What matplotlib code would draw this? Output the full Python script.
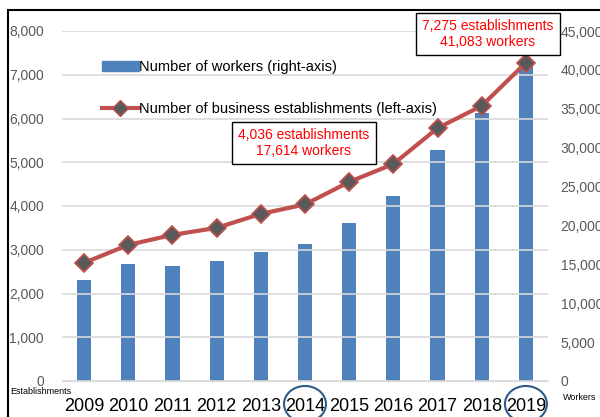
import matplotlib.pyplot as plt
import matplotlib.transforms as mtransforms
from matplotlib.patches import Ellipse, Rectangle
from matplotlib.lines import Line2D

plt.rcParams['font.family'] = ['Liberation Sans', 'DejaVu Sans']

years = ['2009', '2010', '2011', '2012', '2013', '2014', '2015', '2016', '2017', '2018', '2019']
workers = [13000, 15050, 14800, 15400, 16600, 17614, 20300, 23800, 29700, 34450, 41083]
establishments = [2700, 3110, 3340, 3500, 3820, 4036, 4550, 4960, 5780, 6290, 7275]
left_ticks = [0, 1000, 2000, 3000, 4000, 5000, 6000, 7000, 8000]
right_ticks = [0, 5000, 10000, 15000, 20000, 25000, 30000, 35000, 40000, 45000]
circled = ['2014', '2019']

fig = plt.figure(figsize=(6, 4.17), dpi=100)
ax = fig.add_axes([62 / 600, 36 / 417, 486 / 600, 350 / 417])
ax2 = ax.twinx()

x = list(range(len(years)))
ax2.bar(x, workers, width=0.32, color='#4f81bd', zorder=2)
ax2.set_ylim(0, 45000)
ax2.set_yticks(right_ticks)
ax2.set_yticklabels([f'{v:,}' for v in right_ticks], color='#595959', fontsize=10)

ax.set_zorder(ax2.get_zorder() + 1)
ax.patch.set_visible(False)
ax.plot(x, establishments, color='#c0504d', lw=3, marker='D', markersize=9,
        markerfacecolor='#595959', markeredgecolor='#c0504d', markeredgewidth=1.2, zorder=3)
ax.set_ylim(0, 8000)
ax.set_xlim(-0.5, len(years) - 0.5)
ax.set_yticks(left_ticks)
ax.set_yticklabels([f'{v:,}' for v in left_ticks], color='#595959', fontsize=10)
ax.set_xticks(x)
ax.set_xticklabels(years, fontsize=13, color='black')
ax.grid(axis='y', color='#d9d9d9', lw=1.2, zorder=0)

for a in (ax, ax2):
    for s in a.spines.values():
        s.set_visible(False)
    a.tick_params(length=0)
ax.spines['bottom'].set_visible(True)
ax.spines['bottom'].set_color('#d9d9d9')
ax.tick_params(axis='x', pad=12)
ax.tick_params(axis='y', pad=13)
ax2.tick_params(axis='y', pad=9)

# legend
handles = [Rectangle((0, 0), 1, 1, color='#4f81bd'),
           Line2D([], [], color='#c0504d', lw=3, marker='D', markersize=8,
                  markerfacecolor='#595959', markeredgecolor='#c0504d')]
fig.legend(handles, ['Number of workers (right-axis)', 'Number of business establishments (left-axis)'],
           loc='upper left', bbox_to_anchor=(89 / 600, 1 - 47 / 417), frameon=False,
           fontsize=10.5, labelspacing=1.9, handlelength=2.5, handleheight=0.6, handletextpad=0.05)

# callouts
box = dict(boxstyle='square,pad=0.45', facecolor='white', edgecolor='black', lw=1)
fig.text(304 / 600, 1 - 143 / 417, f'{establishments[5]:,} establishments\n{workers[5]:,} workers',
         ha='center', va='center', color='red', fontsize=10, bbox=box, linespacing=1.15)
fig.text(488 / 600, 1 - 34 / 417, f'{establishments[10]:,} establishments\n{workers[10]:,} workers',
         ha='center', va='center', color='red', fontsize=10, bbox=box, linespacing=1.15)

# circles around highlighted years
trans = mtransforms.blended_transform_factory(ax.transData, fig.transFigure)
for yr in circled:
    i = years.index(yr)
    e = Ellipse((i, 1 - 404 / 417), 0.95, 36 / 417, transform=trans,
                fill=False, edgecolor='#2e5c8a', lw=1.5, clip_on=False)
    fig.patches.append(e)

fig.text(10 / 600, 1 - 392 / 417, 'Establishments', fontsize=6.5, va='center', ha='left')
fig.text(563 / 600, 1 - 397 / 417, 'Workers', fontsize=6.5, va='center', ha='left')

# outer frame
fig.patches.append(Rectangle((8 / 600, -0.02), 0.99, 1 - 10 / 417 + 0.02, transform=fig.transFigure,
                             fill=False, edgecolor='black', lw=1.5))

fig.savefig('out.png', dpi=100)
